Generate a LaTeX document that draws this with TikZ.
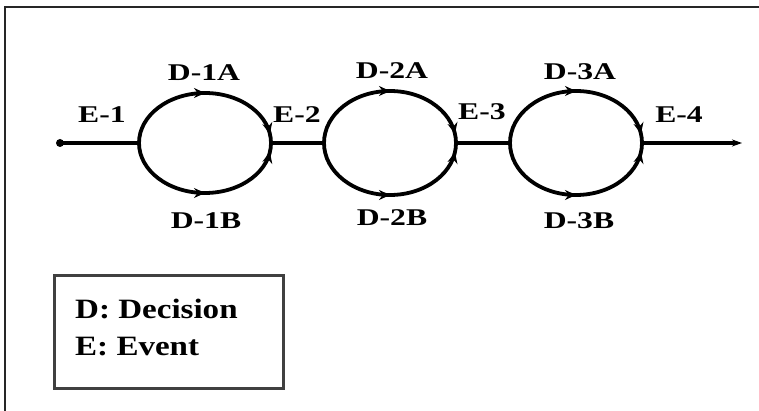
\documentclass[tikz,border=0pt]{standalone}
\usepackage{fontspec}
\setmainfont{Liberation Serif}
\usetikzlibrary{arrows.meta,decorations.markings}

% horizontally widened bold labels
\newcommand\widelabel[2]{\scalebox{#1}[1]{#2}}

\begin{document}
\begin{tikzpicture}[x=1pt,y=1pt,
  flow/.style={line width=3.8pt},
  branch/.style={flow, postaction={decorate},
    decoration={markings,
      mark=at position 0.5 with {\arrow{Stealth[length=11pt,width=10pt]}},
      mark=at position 0.95 with {\arrow{Stealth[length=11pt,width=10pt]}}}},
  lbl/.style={font=\fontsize{24}{28}\selectfont\bfseries, anchor=base, inner sep=0pt},
  legendtxt/.style={font=\fontsize{28}{32}\selectfont\bfseries, anchor=base west, inner sep=0pt},
  frame/.style={line width=2pt, black!85}
]
\useasboundingbox (0,0) rectangle (759,-411);

% page frame (left and top edges)
\draw[frame] (5,-411) -- (5,-7) -- (759,-7);

% junction points along the main line
\coordinate (start) at (60,-143);
\coordinate (j1) at (139,-143);
\coordinate (j2) at (271,-143);
\coordinate (j3) at (324,-143);
\coordinate (j4) at (456,-143);
\coordinate (j5) at (510,-143);
\coordinate (j6) at (642,-143);
\coordinate (finish) at (742,-143);

% event segments
\draw[flow] (start) -- (j1);
\draw[flow] (j2) -- (j3);
\draw[flow] (j4) -- (j5);
\draw[flow, -{Stealth[length=10pt,width=7pt]}] (j6) -- (finish);
\fill (start) circle[radius=4pt];

% decision branches: upper (A) and lower (B) half-ellipses
\draw[branch] (j1) arc[start angle=180, end angle=0, x radius=66, y radius=50];
\draw[branch] (j1) arc[start angle=180, end angle=360, x radius=66, y radius=50];
\draw[branch] (j3) arc[start angle=180, end angle=0, x radius=66, y radius=52];
\draw[branch] (j3) arc[start angle=180, end angle=360, x radius=66, y radius=52];
\draw[branch] (j5) arc[start angle=180, end angle=0, x radius=66, y radius=52];
\draw[branch] (j5) arc[start angle=180, end angle=360, x radius=66, y radius=52];

% labels
\node[lbl] (e1)  at (102,-123) {\widelabel{1.32}{E-1}};
\node[lbl] (e2)  at (297,-123) {\widelabel{1.32}{E-2}};
\node[lbl] (e3)  at (482,-120) {\widelabel{1.32}{E-3}};
\node[lbl] (e4)  at (679,-123) {\widelabel{1.32}{E-4}};
\node[lbl] (d1a) at (204,-81)  {\widelabel{1.32}{D-1A}};
\node[lbl] (d1b) at (206,-229) {\widelabel{1.32}{D-1B}};
\node[lbl] (d2a) at (392,-79)  {\widelabel{1.32}{D-2A}};
\node[lbl] (d2b) at (392,-226) {\widelabel{1.32}{D-2B}};
\node[lbl] (d3a) at (580,-80)  {\widelabel{1.32}{D-3A}};
\node[lbl] (d3b) at (579,-229) {\widelabel{1.32}{D-3B}};

% legend
\node[draw=black!75, line width=2.5pt, minimum width=229pt, minimum height=113pt,
      anchor=north west, inner sep=0pt] (legend) at (53,-274) {};
\node[legendtxt] (legd) at (75,-318) {\widelabel{1.18}{D: Decision}};
\node[legendtxt] (lege) at (75,-355) {\widelabel{1.18}{E: Event}};
\end{tikzpicture}
\end{document}
